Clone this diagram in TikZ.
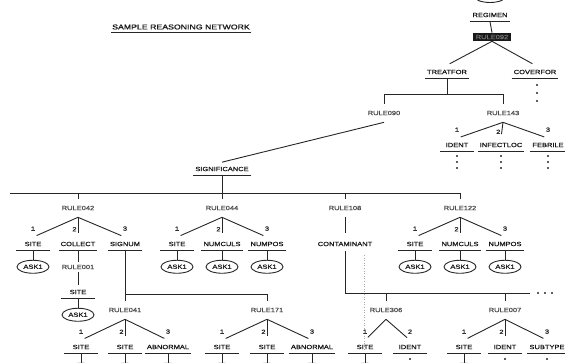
\documentclass[tikz,border=0pt]{standalone}
\usepackage{fontspec}
\setmainfont{Liberation Sans}[FakeStretch=1.25, FakeBold=1]
\usetikzlibrary{positioning,shapes.geometric}

\tikzset{
  net/.style={line width=0.9pt, draw=black!85},
  kid/.style={net, shorten >=4pt},
  term/.style={font=\fontsize{6}{7}\selectfont, text=black!90, inner xsep=2pt, inner ysep=4.5pt, minimum width=33pt},
  rulenode/.style={font=\fontsize{6}{7}\selectfont, text=black!70, inner xsep=0pt, inner ysep=7pt},
  num/.style={font=\fontsize{6}{7}\selectfont, text=black!85, inner sep=1pt},
  ask/.style={ellipse, draw=black!85, line width=0.9pt, minimum width=32pt, minimum height=13pt, inner sep=0pt, font=\fontsize{6}{7}\selectfont, text=black!90},
}

\begin{document}
\begin{tikzpicture}[x=1pt, y=-1pt]
\useasboundingbox (0,0) rectangle (565,363);
\clip (0,0) rectangle (565,363);

% title
\node[term, font=\fontsize{7}{8}\selectfont, inner xsep=1pt, inner ysep=3pt] (title) at (181,27) {SAMPLE REASONING NETWORK};

% top of the tree
\node[ask] (goal) at (490,-4) {};
\node[term] (regimen) at (490,15) {REGIMEN};
\node[rulenode, fill=black!90, text=black!55, inner xsep=3pt, inner ysep=2pt] (r092) at (492,37) {RULE092};
\node[term] (treatfor) at (447,72) {TREATFOR};
\node[term] (coverfor) at (535,72) {COVERFOR};
\draw[net] (regimen.south) -- (r092.north);
\draw[net, shorten >=3pt] (r092.south) -- (treatfor.north);
\draw[net, shorten >=3pt] (r092.south) -- (coverfor.north);
\foreach \y in {85,93,101} \fill[black!85] (537,\y) circle (1.1pt);

\node[rulenode] (r090) at (384,113) {RULE090};
\node[rulenode] (r143) at (503,113) {RULE143};
\draw[net] (treatfor.south) -- ++(0,16) coordinate (tj);
\draw[net] (r090.north) |- (tj) -| (r143.north);

\node[term] (ident) at (457,145) {IDENT};
\node[term] (infect) at (501,145) {INFECTLOC};
\node[term] (febrile) at (548,145) {FEBRILE};
\foreach \x in {457,501,548}
  \foreach \y in {156,162,168} \fill[black!85] (\x,\y) circle (1.1pt);

\node[term] (signif) at (222,169) {SIGNIFICANCE};
\draw[net] (r090.south) -- (signif.north);

% first rule row
\coordinate (mainL) at (10,193);
\node[rulenode] (r042) at (78,208) {RULE042};
\node[rulenode] (r044) at (222,208) {RULE044};
\node[rulenode] (r108) at (345,208) {RULE108};
\node[rulenode] (r122) at (460,208) {RULE122};
\draw[net] (mainL) -- (r122.north |- mainL) -- (r122.north);
\draw[net] (signif.south) -- (r044.north);
\foreach \r in {r042,r108} \draw[net] (\r.north |- mainL) -- (\r.north);

\node[term] (k42a) at (33,244) {SITE};
\node[term] (k42b) at (78,244) {COLLECT};
\node[term] (k42c) at (125,244) {SIGNUM};
\node[term] (k44a) at (177,244) {SITE};
\node[term] (k44b) at (222,244) {NUMCULS};
\node[term] (k44c) at (267,244) {NUMPOS};
\node[term] (cont) at (345,244) {CONTAMINANT};
\node[term] (k122a) at (415,244) {SITE};
\node[term] (k122b) at (460,244) {NUMCULS};
\node[term] (k122c) at (505,244) {NUMPOS};
\draw[kid] (r108.south) -- (cont.north);

\foreach \k in {k42a,k44a,k44b,k44c,k122a,k122b,k122c}
  \node[ask, below=9pt of \k] (a\k) {ASK1};

% collect branch
\node[rulenode, inner ysep=3pt] (r001) at (78,267) {RULE001};
\node[term] (k001) at (78,292) {SITE};
\node[ask, below=9pt of k001] (ak001) {ASK1};
\draw[net] (k42b.south) -- (r001.north);
\draw[net] (r001.south) -- (k001.north);

% second rule row
\node[rulenode] (r041) at (125,310) {RULE041};
\node[rulenode] (r171) at (267,310) {RULE171};
\node[rulenode] (r306) at (386,310) {RULE306};
\node[rulenode] (r007) at (505,310) {RULE007};
\draw[net] (k42c.south) -- (r041.north);
\draw[net] (r171.north) |- (k42c.south |- 0,294);
\coordinate (cend) at (530,293);
\draw[net] (cont.south) |- (cend);
\foreach \r in {r306,r007} \draw[net] (\r.north |- cend) -- (\r.north);
\foreach \x in {538,545,552} \fill[black!85] (\x,293) circle (1.1pt);
\draw[black!35, dotted, line width=0.6pt] (364,255) -- (364,350);

\node[term] (g41a) at (81,347) {SITE};
\node[term] (g41b) at (125,347) {SITE};
\node[term] (g41c) at (168,347) {ABNORMAL};
\node[term] (g171a) at (222,347) {SITE};
\node[term] (g171b) at (267,347) {SITE};
\node[term] (g171c) at (312,347) {ABNORMAL};
\node[term] (g306a) at (365,347) {SITE};
\node[term] (g306b) at (410,347) {IDENT};
\node[term] (g007a) at (464,347) {SITE};
\node[term] (g007b) at (505,347) {IDENT};
\node[term] (g007c) at (547,347) {SUBTYPE};
% asked values below the edge of the page
\foreach \g in {g41a,g41b,g41c,g171a,g171b,g171c,g306a,g007a}
  \node[ask, below=9pt of \g] (a\g) {};
\foreach \x in {410,505,547} \fill[black!85] (\x,359) circle (1.1pt);

% rule branches with premise numbers
\foreach \r/\a/\b/\c in {r042/k42a/k42b/k42c, r044/k44a/k44b/k44c, r122/k122a/k122b/k122c, r143/ident/infect/febrile, r041/g41a/g41b/g41c, r171/g171a/g171b/g171c, r007/g007a/g007b/g007c}{
  \draw[kid] (\r.south) -- (\a.north) node[num, pos=1, above=5pt] {1};
  \draw[kid] (\r.south) -- (\b.north) node[num, pos=0.6, left=0pt] {2};
  \draw[kid] (\r.south) -- (\c.north) node[num, pos=1, above=5pt] {3};
}
\draw[kid] (r306.south) -- (g306a.north) node[num, pos=1, above=5pt] {1};
\draw[kid] (r306.south) -- (g306b.north) node[num, pos=1, above=5pt] {2};

% askings
\foreach \k in {k42a,k44a,k44b,k44c,k122a,k122b,k122c,k001,g41a,g41b,g41c,g171a,g171b,g171c,g306a,g007a}
  \draw[net] (\k.south) -- (a\k.north);

% underlines
\foreach \n in {title,regimen,treatfor,coverfor,ident,infect,febrile,signif,k42a,k42b,k42c,k44a,k44b,k44c,k122a,k122b,k122c,k001,g41a,g41b,g41c,g171a,g171b,g171c,g306a,g306b,g007a,g007b,g007c}
  \draw[net] (\n.south west) -- (\n.south east);

\end{tikzpicture}
\end{document}
